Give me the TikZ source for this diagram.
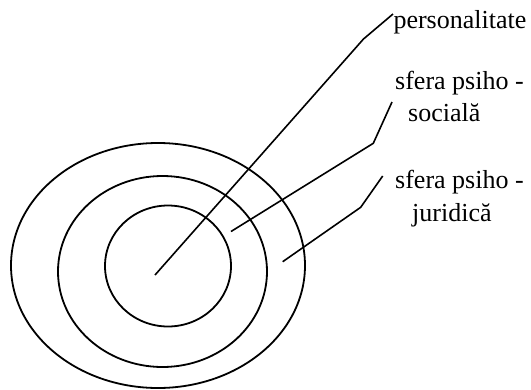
\documentclass[tikz,border=0pt]{standalone}
\usepackage{fontspec}
\setmainfont{Liberation Serif}
\begin{document}
\begin{tikzpicture}[x=1pt,y=-1pt,
  ring/.style={draw=black,line width=1.8pt},
  leader/.style={draw=black,line width=1.6pt},
  lbl/.style={anchor=base west,inner sep=0pt,font=\fontsize{26}{31}\selectfont}]
\useasboundingbox (0,0) rectangle (531,389);
% rings
\draw[ring] (158,265.5) ellipse [x radius=147, y radius=122.5];
\draw[ring] (162.5,271.5) ellipse [x radius=104.5, y radius=95.5];
\draw[ring] (168,266) ellipse [x radius=63, y radius=60.5];
% labels
\node[lbl] (pers) at (393.3,28.3) {personalitate};
\node[lbl] (soc1) at (395,89.3) {sfera psiho -};
\node[lbl] (soc2) at (408,121) {socială};
\node[lbl] (jur1) at (395,188.5) {sfera psiho -};
\node[lbl] (jur2) at (412,221) {juridică};
% leader points
\coordinate (p0) at (155,275);
\coordinate (p1) at (363.5,39);
\coordinate (p2) at (393,14);
\coordinate (s0) at (231,231.5);
\coordinate (s1) at (373.3,143.3);
\coordinate (s2) at (392,102);
\coordinate (j0) at (282.7,261.7);
\coordinate (j1) at (360.7,207.3);
\coordinate (j2) at (382.7,176);
\draw[leader] (p0) -- (p1) -- (p2);
\draw[leader] (s0) -- (s1) -- (s2);
\draw[leader] (j0) -- (j1) -- (j2);
\end{tikzpicture}
\end{document}
